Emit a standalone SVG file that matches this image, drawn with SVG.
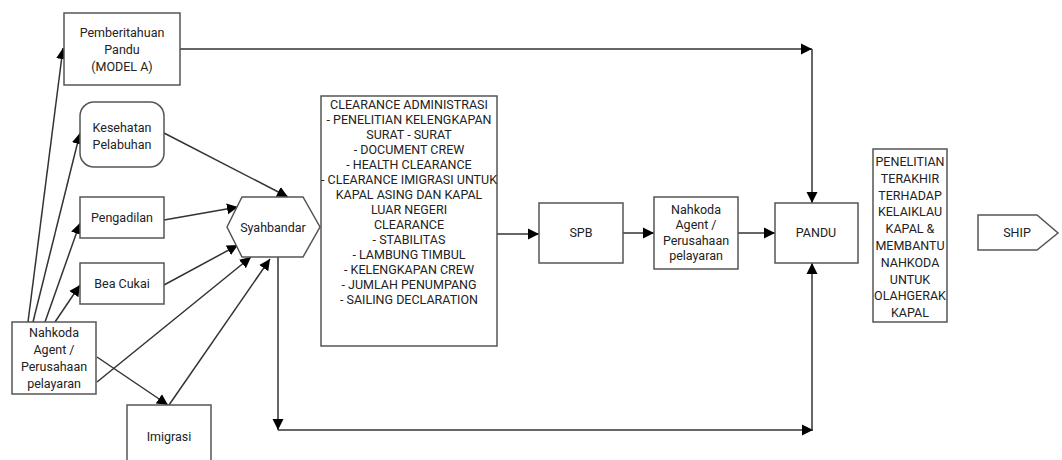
<svg xmlns="http://www.w3.org/2000/svg" width="1062" height="460" viewBox="0 0 1062 460">
<style>
.box{fill:#fff;stroke:#555;stroke-width:1.5}
.t{font-family:Roboto,"Liberation Sans",sans-serif;font-size:12.5px;fill:#222;text-anchor:middle}
.c{fill:none;stroke:#333;stroke-width:1.5}
</style>
<defs>
<marker id="ar" markerUnits="userSpaceOnUse" markerWidth="12" markerHeight="12" refX="11" refY="6" orient="auto">
<path d="M0,0.5 L11,6 L0,11.5 Z" fill="#000"/>
</marker>
</defs>
<rect width="1062" height="460" fill="#fff"/>
<g id="connectors">
<line class="c" x1="180" y1="49" x2="812" y2="49" marker-end="url(#ar)"/>
<line class="c" x1="812" y1="49" x2="812" y2="203" marker-end="url(#ar)"/>
<line class="c" x1="164" y1="133" x2="288" y2="197" marker-end="url(#ar)"/>
<line class="c" x1="164" y1="220" x2="238" y2="207" marker-end="url(#ar)"/>
<line class="c" x1="164" y1="285" x2="238" y2="245" marker-end="url(#ar)"/>
<line class="c" x1="97" y1="382" x2="251" y2="257" marker-end="url(#ar)"/>
<line class="c" x1="169" y1="405" x2="270" y2="259" marker-end="url(#ar)"/>
<line class="c" x1="97" y1="357" x2="168" y2="405" marker-end="url(#ar)"/>
<line class="c" x1="28" y1="322" x2="63" y2="48" marker-end="url(#ar)"/>
<line class="c" x1="33" y1="322" x2="80" y2="133" marker-end="url(#ar)"/>
<line class="c" x1="45" y1="322" x2="80" y2="223" marker-end="url(#ar)"/>
<line class="c" x1="55" y1="322" x2="80" y2="285" marker-end="url(#ar)"/>
<line class="c" x1="278" y1="257" x2="278" y2="430" marker-end="url(#ar)"/>
<line class="c" x1="278" y1="430" x2="813" y2="430" marker-end="url(#ar)"/>
<line class="c" x1="812" y1="430" x2="812" y2="263" marker-end="url(#ar)"/>
<line class="c" x1="497" y1="234" x2="539" y2="234" marker-end="url(#ar)"/>
<line class="c" x1="623" y1="233" x2="654" y2="233" marker-end="url(#ar)"/>
<line class="c" x1="738" y1="233" x2="775" y2="233" marker-end="url(#ar)"/>
</g>
<g id="pemberitahuan">
<rect class="box" x="64" y="13" width="116" height="72"/>
<text class="t" x="122" y="37">Pemberitahuan</text>
<text class="t" x="122" y="54">Pandu</text>
<text class="t" x="122" y="71">(MODEL A)</text>
</g>
<g id="kesehatan">
<rect class="box" x="80" y="102" width="84" height="65" rx="14" ry="14"/>
<text class="t" x="122" y="132">Kesehatan</text>
<text class="t" x="122" y="149">Pelabuhan</text>
</g>
<g id="pengadilan">
<rect class="box" x="80" y="197" width="84" height="41"/>
<text class="t" x="122" y="222">Pengadilan</text>
</g>
<g id="beacukai">
<rect class="box" x="80" y="263" width="84" height="41"/>
<text class="t" x="122" y="288">Bea Cukai</text>
</g>
<g id="nahkoda1">
<rect class="box" x="12" y="322" width="84" height="72"/>
<text class="t" x="54" y="337">Nahkoda</text>
<text class="t" x="54" y="354">Agent /</text>
<text class="t" x="54" y="371">Perusahaan</text>
<text class="t" x="54" y="388">pelayaran</text>
</g>
<g id="imigrasi">
<rect class="box" x="127" y="405" width="84" height="70"/>
<text class="t" x="169" y="441">Imigrasi</text>
</g>
<g id="syahbandar">
<polygon class="box" points="227,227 242,197 303,197 320,227 303,257 242,257"/>
<text class="t" x="273" y="232">Syahbandar</text>
</g>
<g id="clearance">
<rect class="box" x="321" y="96" width="176" height="250"/>
<text class="t" x="409" y="109">CLEARANCE ADMINISTRASI</text>
<text class="t" x="409" y="124">- PENELITIAN KELENGKAPAN</text>
<text class="t" x="409" y="139">SURAT - SURAT</text>
<text class="t" x="409" y="154">- DOCUMENT CREW</text>
<text class="t" x="409" y="169">- HEALTH CLEARANCE</text>
<text class="t" x="409" y="184">- CLEARANCE IMIGRASI UNTUK</text>
<text class="t" x="409" y="199">KAPAL ASING DAN KAPAL</text>
<text class="t" x="409" y="214">LUAR NEGERI</text>
<text class="t" x="409" y="229">CLEARANCE</text>
<text class="t" x="409" y="244">- STABILITAS</text>
<text class="t" x="409" y="259">- LAMBUNG TIMBUL</text>
<text class="t" x="409" y="274">- KELENGKAPAN CREW</text>
<text class="t" x="409" y="289">- JUMLAH PENUMPANG</text>
<text class="t" x="409" y="304">- SAILING DECLARATION</text>
</g>
<g id="spb">
<rect class="box" x="539" y="203" width="84" height="60"/>
<text class="t" x="581" y="237">SPB</text>
</g>
<g id="nahkoda2">
<rect class="box" x="654" y="197" width="84" height="72"/>
<text class="t" x="696" y="214">Nahkoda</text>
<text class="t" x="696" y="229">Agent /</text>
<text class="t" x="696" y="245">Perusahaan</text>
<text class="t" x="696" y="260">pelayaran</text>
</g>
<g id="pandu">
<rect class="box" x="775" y="203" width="83" height="60"/>
<text class="t" x="816" y="237">PANDU</text>
</g>
<g id="penelitian">
<rect class="box" x="873" y="149" width="74" height="173"/>
<text class="t" x="910" y="166">PENELITIAN</text>
<text class="t" x="910" y="183">TERAKHIR</text>
<text class="t" x="910" y="200">TERHADAP</text>
<text class="t" x="910" y="216">KELAIKLAU</text>
<text class="t" x="910" y="233">KAPAL &amp;</text>
<text class="t" x="910" y="250">MEMBANTU</text>
<text class="t" x="910" y="267">NAHKODA</text>
<text class="t" x="910" y="284">UNTUK</text>
<text class="t" x="910" y="300">OLAHGERAK</text>
<text class="t" x="910" y="317">KAPAL</text>
</g>
<g id="ship">
<polygon class="box" points="978,215 1037,215 1058,233 1037,250 978,250"/>
<text class="t" x="1017" y="237">SHIP</text>
</g>
</svg>
